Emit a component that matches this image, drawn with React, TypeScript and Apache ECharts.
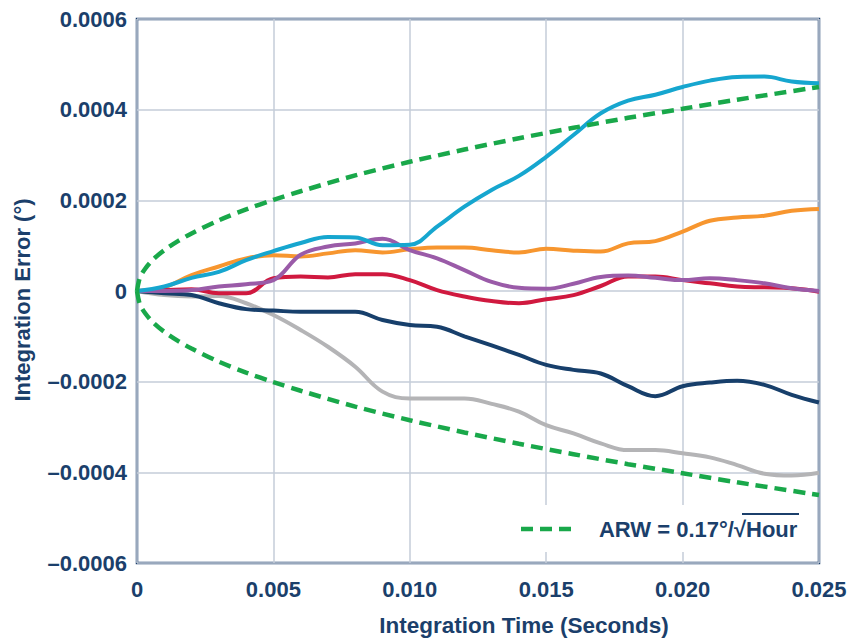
import React, { useEffect, useRef } from "react";
import * as echarts from "echarts";

// time (seconds)
const times = [
  0, 0.001, 0.002, 0.003, 0.004, 0.005, 0.006, 0.007, 0.008, 0.009, 0.01,
  0.011, 0.012, 0.013, 0.014, 0.015, 0.016, 0.017, 0.018, 0.019, 0.02,
  0.021, 0.022, 0.023, 0.024, 0.025,
];
// series values in units of 1e-4 degrees
const cyan = [0, 0.1, 0.29, 0.42, 0.68, 0.88, 1.06, 1.19, 1.18, 1.01, 1.02, 1.42, 1.86, 2.23, 2.54, 2.96, 3.44, 3.92, 4.2, 4.33, 4.5, 4.64, 4.72, 4.73, 4.62, 4.58];
const orange = [0, 0.08, 0.35, 0.54, 0.72, 0.79, 0.76, 0.83, 0.9, 0.85, 0.92, 0.96, 0.96, 0.9, 0.85, 0.93, 0.89, 0.87, 1.05, 1.1, 1.31, 1.55, 1.62, 1.66, 1.77, 1.81];
const purple = [0, 0, 0.02, 0.1, 0.15, 0.24, 0.8, 0.98, 1.05, 1.15, 0.9, 0.72, 0.46, 0.2, 0.07, 0.05, 0.16, 0.31, 0.34, 0.29, 0.24, 0.28, 0.24, 0.17, 0.06, 0];
const red = [0, 0.02, 0.04, -0.05, -0.05, 0.28, 0.32, 0.3, 0.37, 0.37, 0.24, 0.02, -0.12, -0.22, -0.27, -0.18, -0.09, 0.11, 0.32, 0.32, 0.24, 0.17, 0.1, 0.08, 0.06, -0.02];
const navy = [0, -0.05, -0.09, -0.27, -0.4, -0.43, -0.46, -0.46, -0.46, -0.64, -0.75, -0.79, -1.0, -1.2, -1.41, -1.63, -1.74, -1.82, -2.1, -2.32, -2.1, -2.02, -1.98, -2.07, -2.29, -2.46];
const gray = [0, -0.09, -0.12, -0.11, -0.27, -0.53, -0.86, -1.23, -1.67, -2.22, -2.37, -2.37, -2.37, -2.49, -2.66, -2.96, -3.14, -3.36, -3.51, -3.51, -3.58, -3.67, -3.84, -4.03, -4.07, -4.01];

// ARW bound, units of 1e-4
const arwTimes = [0, 0.0001, 0.0003, 0.0006, 0.001, 0.0015, 0.002, 0.003, 0.004, 0.005, 0.006, 0.008, 0.01, 0.012, 0.014, 0.016, 0.018, 0.02, 0.022, 0.025];
const arwUpper = [0, 0.285, 0.49, 0.7, 0.9, 1.1, 1.27, 1.56, 1.8, 2.01, 2.2, 2.55, 2.85, 3.12, 3.37, 3.6, 3.82, 4.02, 4.22, 4.5];

const NAVY = "#1b3f6b";
const GREEN = "#19a84a";
const FONT = "'Liberation Sans', Arial, sans-serif";

const seriesDefs = [
  { name: "gray", color: "#b4b4b6", values: gray },
  { name: "navy", color: "#173f6b", values: navy },
  { name: "orange", color: "#f7962f", values: orange },
  { name: "red", color: "#d0193f", values: red },
  { name: "purple", color: "#9a5ba8", values: purple },
  { name: "cyan", color: "#16a6cf", values: cyan },
];

export default function App() {
  const ref = useRef<HTMLDivElement>(null);
  useEffect(() => {
    if (!ref.current) return;
    const chart = echarts.init(ref.current, undefined, { renderer: "svg" });
    const lines: any[] = seriesDefs.map((s) => ({
      name: s.name,
      type: "line",
      smooth: 0.4,
      showSymbol: false,
      data: times.map((t, i) => [t, s.values[i] * 1e-4]),
      lineStyle: { color: s.color, width: 4 },
      itemStyle: { color: s.color },
      z: 3,
    }));
    const arw = (sign: number) => ({
      type: "line",
      smooth: 0.3,
      showSymbol: false,
      data: arwTimes.map((t, i) => [t, sign * arwUpper[i] * 1e-4]),
      lineStyle: { color: GREEN, width: 4.5, type: [12, 7] },
      z: 4,
    });
    chart.setOption({
      animation: false,
      backgroundColor: "#ffffff",
      grid: {
        left: 137,
        right: 31,
        top: 19,
        bottom: 76,
        show: true,
        borderColor: NAVY,
        borderWidth: 2.5,
        backgroundColor: "transparent",
      },
      xAxis: {
        type: "value",
        min: 0,
        max: 0.025,
        interval: 0.005,
        axisLine: { show: false },
        axisTick: { show: false },
        splitLine: { lineStyle: { color: "#c4cdd8", width: 1.5 } },
        axisLabel: {
          color: NAVY,
          fontFamily: FONT,
          fontWeight: "bold",
          fontSize: 22,
          margin: 15,
          formatter: (v: number) => {
            const r = Math.round(v * 1000) / 1000;
            return r === 0 ? "0" : r.toFixed(3);
          },
        },
      },
      yAxis: {
        type: "value",
        min: -0.0006,
        max: 0.0006,
        interval: 0.0002,
        axisLine: { show: false },
        axisTick: { show: false },
        splitLine: { lineStyle: { color: "#c4cdd8", width: 1.5 } },
        axisLabel: {
          color: NAVY,
          fontFamily: FONT,
          fontWeight: "bold",
          fontSize: 22,
          margin: 10,
          formatter: (v: number) => {
            const r = Math.round(v * 1e4) / 1e4;
            if (r === 0) return "0";
            return (r < 0 ? "\u2013" : "") + Math.abs(r).toFixed(4);
          },
        },
      },
      series: [...lines, arw(1), arw(-1)],
      graphic: [
        {
          type: "text",
          x: 524,
          y: 625,
          style: {
            text: "Integration Time (Seconds)",
            fill: NAVY,
            font: `bold 22.5px ${FONT}`,
            align: "center",
            verticalAlign: "middle",
          },
        },
        {
          type: "text",
          x: 22,
          y: 300,
          rotation: Math.PI / 2,
          style: {
            text: "Integration Error (\u00b0)",
            fill: NAVY,
            font: `bold 22px ${FONT}`,
            align: "center",
            verticalAlign: "middle",
          },
        },
        {
          type: "rect",
          shape: { x: 505, y: 505, width: 312, height: 47 },
          style: { fill: "#ffffff" },
          z: 10,
        },
        {
          type: "line",
          shape: { x1: 521, y1: 529, x2: 575, y2: 529 },
          style: { stroke: GREEN, lineWidth: 4.5, lineDash: [12, 7] },
          z: 11,
        },
        {
          type: "text",
          x: 746,
          y: 529,
          style: {
            text: "ARW = 0.17\u00b0/\u221a",
            fill: NAVY,
            font: `bold 22px ${FONT}`,
            align: "right",
            verticalAlign: "middle",
          },
          z: 11,
        },
        {
          type: "text",
          x: 746,
          y: 529,
          style: {
            text: "Hour",
            fill: NAVY,
            font: `bold 22px ${FONT}`,
            align: "left",
            verticalAlign: "middle",
          },
          z: 11,
        },
        {
          type: "line",
          shape: { x1: 742, y1: 514, x2: 799, y2: 514 },
          style: { stroke: NAVY, lineWidth: 2 },
          z: 11,
        },
      ],
    });
    return () => chart.dispose();
  }, []);
  return (
    <div
      ref={ref}
      style={{ position: "absolute", left: 0, top: 0, width: 850, height: 639 }}
    />
  );
}
